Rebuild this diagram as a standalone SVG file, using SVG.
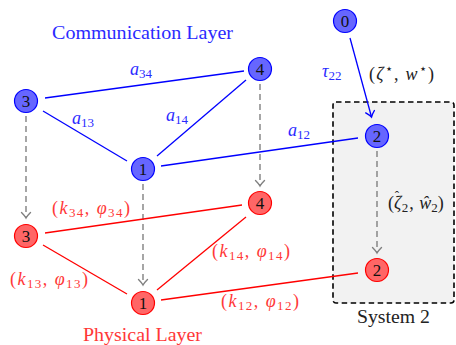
<svg xmlns="http://www.w3.org/2000/svg" width="456" height="345" viewBox="0 0 456 345">
<style>
  text { font-family: "Liberation Serif", "DejaVu Serif", serif; }
  .t { font-size: 18px; }
  .m { font-size: 18px; }
  .i { font-style: italic; }
  .s { font-size: 13px; }
  .blue { fill: #2a2aff; }
  .red { fill: #ff3838; }
  .blk { fill: #222222; }
  .cb { fill: #6666ff; stroke: #0000ff; stroke-width: 1.2; }
  .cr { fill: #ff6666; stroke: #ff0000; stroke-width: 1.2; }
  .num { font-size: 17px; text-anchor: middle; fill: #111; }
  .eb { stroke: #0000ff; stroke-width: 1.3; fill: none; }
  .er { stroke: #ff0000; stroke-width: 1.3; fill: none; }
  .eg { stroke: #808080; stroke-width: 1.4; stroke-dasharray: 6 4; fill: none; }
</style>
<defs>
  <marker id="ag" viewBox="-7 -6 9 12" refX="0" refY="0" markerWidth="9" markerHeight="12" orient="auto" markerUnits="userSpaceOnUse">
    <path d="M-5.5,-4.5 Q-2,-1 0,0 Q-2,1 -5.5,4.5" fill="none" stroke="#808080" stroke-width="1.4" stroke-linecap="round"/>
  </marker>
  <marker id="ab" viewBox="-7 -6 9 12" refX="0" refY="0" markerWidth="9" markerHeight="12" orient="auto" markerUnits="userSpaceOnUse">
    <path d="M-5.5,-4.5 Q-2,-1 0,0 Q-2,1 -5.5,4.5" fill="none" stroke="#0000ff" stroke-width="1.4" stroke-linecap="round"/>
  </marker>
</defs>

<g id="system2">
  <rect x="333" y="102" width="121" height="201" rx="3" fill="#f2f2f2" stroke="#000" stroke-width="1.6" stroke-dasharray="5.5 3.5"/>
  <text class="t blk" x="357" y="323" textLength="73" lengthAdjust="spacingAndGlyphs">System 2</text>
</g>

<g id="connectors">
  <line class="eb" x1="45" y1="98" x2="244" y2="71"/>
  <line class="eb" x1="43" y1="111" x2="127" y2="161"/>
  <line class="eb" x1="157" y1="156" x2="246" y2="80"/>
  <line class="eb" x1="161" y1="166" x2="358" y2="138"/>
  <line class="eb" x1="350" y1="38" x2="371.5" y2="117" marker-end="url(#ab)"/>
  <line class="eg" x1="26" y1="116" x2="26" y2="218" marker-end="url(#ag)"/>
  <line class="eg" x1="143" y1="184" x2="143" y2="285" marker-end="url(#ag)"/>
  <line class="eg" x1="260" y1="84" x2="260" y2="186" marker-end="url(#ag)"/>
  <line class="eg" x1="377" y1="151" x2="377" y2="253" marker-end="url(#ag)"/>
  <line class="er" x1="45" y1="233" x2="242" y2="205"/>
  <line class="er" x1="43" y1="245" x2="127" y2="294"/>
  <line class="er" x1="157" y1="290" x2="246" y2="217"/>
  <line class="er" x1="161" y1="300" x2="358" y2="273"/>
</g>

<g id="labels">
  <text class="t blue" x="52" y="39" textLength="181" lengthAdjust="spacingAndGlyphs">Communication Layer</text>
  <text class="t red" x="83" y="341" textLength="119" lengthAdjust="spacingAndGlyphs">Physical Layer</text>
  <text class="m blue" x="130" y="75"><tspan class="i">a</tspan><tspan class="s" dy="3">34</tspan></text>
  <text class="m blue" x="72" y="124"><tspan class="i">a</tspan><tspan class="s" dy="3">13</tspan></text>
  <text class="m blue" x="166" y="121"><tspan class="i">a</tspan><tspan class="s" dy="3">14</tspan></text>
  <text class="m blue" x="288" y="136"><tspan class="i">a</tspan><tspan class="s" dy="3">12</tspan></text>
  <text class="m blue" x="322" y="77"><tspan class="i">τ</tspan><tspan class="s" dy="3">22</tspan></text>
  <text class="m blk" x="369" y="80" textLength="65" lengthAdjust="spacing">(<tspan class="i">ζ</tspan><tspan class="s" dy="-7">⋆</tspan><tspan dy="7">, </tspan><tspan class="i">w</tspan><tspan class="s" dy="-7">⋆</tspan><tspan dy="7">)</tspan></text>
  <text class="m blk" x="388" y="209">(<tspan class="i">ζ</tspan><tspan class="s" dx="-6.5" dy="-9">ˆ</tspan><tspan class="s" dx="2.5" dy="12">2</tspan><tspan dx="1" dy="-3">, </tspan><tspan class="i" dx="1">ŵ</tspan><tspan class="s" dy="3">2</tspan><tspan dy="-3">)</tspan></text>
  <text class="m red" x="52" y="214" textLength="78" lengthAdjust="spacing">(<tspan class="i">k</tspan><tspan class="s" dy="3">34</tspan><tspan dy="-3">, </tspan><tspan class="i">φ</tspan><tspan class="s" dy="3">34</tspan><tspan dy="-3">)</tspan></text>
  <text class="m red" x="10" y="285" textLength="78" lengthAdjust="spacing">(<tspan class="i">k</tspan><tspan class="s" dy="3">13</tspan><tspan dy="-3">, </tspan><tspan class="i">φ</tspan><tspan class="s" dy="3">13</tspan><tspan dy="-3">)</tspan></text>
  <text class="m red" x="212" y="257" textLength="78" lengthAdjust="spacing">(<tspan class="i">k</tspan><tspan class="s" dy="3">14</tspan><tspan dy="-3">, </tspan><tspan class="i">φ</tspan><tspan class="s" dy="3">14</tspan><tspan dy="-3">)</tspan></text>
  <text class="m red" x="221" y="307" textLength="78" lengthAdjust="spacing">(<tspan class="i">k</tspan><tspan class="s" dy="3">12</tspan><tspan dy="-3">, </tspan><tspan class="i">φ</tspan><tspan class="s" dy="3">12</tspan><tspan dy="-3">)</tspan></text>
</g>

<g id="c0"><circle class="cb" cx="345" cy="21" r="11.5"/><text class="num" x="345" y="27">0</text></g>
<g id="c1"><circle class="cb" cx="143" cy="169" r="11.5"/><text class="num" x="143" y="175">1</text></g>
<g id="c2"><circle class="cb" cx="377" cy="136" r="11.5"/><text class="num" x="377" y="142">2</text></g>
<g id="c3"><circle class="cb" cx="26" cy="101" r="11.5"/><text class="num" x="26" y="107">3</text></g>
<g id="c4"><circle class="cb" cx="260" cy="69" r="11.5"/><text class="num" x="260" y="75">4</text></g>
<g id="p1"><circle class="cr" cx="143" cy="303" r="11.5"/><text class="num" x="143" y="309">1</text></g>
<g id="p2"><circle class="cr" cx="377" cy="270" r="11.5"/><text class="num" x="377" y="276">2</text></g>
<g id="p3"><circle class="cr" cx="26" cy="236" r="11.5"/><text class="num" x="26" y="242">3</text></g>
<g id="p4"><circle class="cr" cx="260" cy="203" r="11.5"/><text class="num" x="260" y="209">4</text></g>
</svg>
